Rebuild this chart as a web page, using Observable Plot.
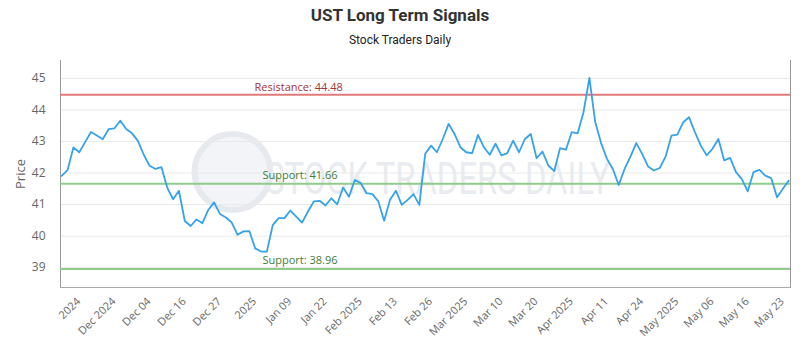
<!DOCTYPE html>
<html>
<head>
<meta charset="utf-8">
<script src="https://cdn.jsdelivr.net/npm/d3@7"></script>
<script src="https://cdn.jsdelivr.net/npm/@observablehq/plot@0.6"></script>
<style>
  html, body { margin: 0; padding: 0; background: #fff; }
  #wrap { width: 800px; height: 350px; overflow: hidden; }
  .title { height: 30px; line-height: 30px; text-align: center; font-family: "Liberation Sans Narrow", "Roboto", sans-serif; font-weight: bold; font-size: 17px; color: #333; }
  .subtitle { height: 20px; line-height: 20px; text-align: center; font-family: "Liberation Sans Narrow", "Roboto", sans-serif; font-size: 12px; color: #222; }
</style>
</head>
<body>
<div id="wrap">
  <div class="title">UST Long Term Signals</div>
  <div class="subtitle">Stock Traders Daily</div>
  <div id="chart"></div>
</div>
<script>
// Closing prices, one per trading day (index = trading day)
const prices = [
  41.91, 42.09, 42.81, 42.66, 42.98, 43.30, 43.19, 43.07, 43.39, 43.42,
  43.66, 43.40, 43.26, 43.02, 42.58, 42.23, 42.13, 42.19, 41.54, 41.17,
  41.44, 40.48, 40.32, 40.53, 40.41, 40.83, 41.07, 40.70, 40.59, 40.43,
  40.04, 40.15, 40.16, 39.61, 39.51, 39.51, 40.35, 40.57, 40.57, 40.81,
  40.62, 40.43, 40.78, 41.10, 41.12, 40.97, 41.20, 41.01, 41.54, 41.25,
  41.78, 41.68, 41.36, 41.33, 41.10, 40.49, 41.15, 41.44, 40.99, 41.15,
  41.33, 40.99, 42.61, 42.87, 42.66, 43.08, 43.56, 43.24, 42.82, 42.66,
  42.63, 43.21, 42.82, 42.58, 42.93, 42.56, 42.63, 43.03, 42.66, 43.08,
  43.24, 42.47, 42.68, 42.24, 42.06, 42.79, 42.74, 43.30, 43.26, 43.93,
  45.02, 43.61, 42.95, 42.45, 42.13, 41.62, 42.13, 42.52, 42.95, 42.61,
  42.21, 42.08, 42.16, 42.52, 43.19, 43.22, 43.61, 43.77, 43.30, 42.87,
  42.56, 42.77, 43.08, 42.40, 42.48, 42.03, 41.81, 41.42, 42.03, 42.10,
  41.92, 41.84, 41.23, 41.50, 41.76
];

// Category tick labels (every 6th trading day)
const tickLabels = [
  "2024", "Dec 2024", "Dec 04", "Dec 16", "Dec 27", "2025", "Jan 09",
  "Jan 22", "Feb 2025", "Feb 13", "Feb 26", "Mar 2025", "Mar 10", "Mar 20",
  "Apr 2025", "Apr 11", "Apr 24", "May 2025", "May 06", "May 16", "May 23"
];
const tickStep = 6;

// Signal levels
const levelNames = ["Resistance", "Support", "Support"];
const levelValues = [44.48, 41.66, 38.96];

const yTicks = [39, 40, 41, 42, 43, 44, 45];

const series = prices.map((p, i) => ({i, p}));
const levels = levelNames.map((n, k) => ({name: n, value: levelValues[k], label: `${n}: ${levelValues[k].toFixed(2)}`}));
const tickIdx = tickLabels.map((_, k) => k * tickStep);

const resColor = "#e07a7a", resText = "#9e3434";
const supColor = "#8fcb8a", supText = "#3f7d3a";

const chart = Plot.plot({
  width: 800,
  height: 300,
  marginTop: 10,
  marginBottom: 63,
  marginLeft: 60,
  marginRight: 10,
  style: {fontFamily: "'Open Sans', sans-serif", fontSize: "11px", color: "#666", background: "#fff"},
  x: {domain: [-0.2, prices.length - 0.7], label: null},
  y: {domain: [38.37, 45.57], label: null},
  marks: [
    // watermark
    Plot.dot([0], {frameAnchor: "middle", dx: -193, dy: -2, r: 38, fill: "#f2f4f7", stroke: "#e6e9ee", strokeWidth: 6}),
    Plot.text(["STOCK TRADERS DAILY"], {frameAnchor: "middle", dx: 12, dy: 6, text: d => d, fontSize: 44, fill: "#e8ebef", fontFamily: "Roboto, sans-serif", className: "wm"}),
    Plot.gridY(yTicks, {stroke: "#e9e9e9", strokeOpacity: 1}),
    Plot.frame({anchor: "left", stroke: "#999"}),
    Plot.frame({anchor: "right", stroke: "#999"}),
    Plot.frame({anchor: "bottom", stroke: "#aaa"}),
    Plot.axisY(yTicks, {tickSize: 0, tickPadding: 15, fontSize: 12, fill: "#666", label: "Price", labelAnchor: "center", labelArrow: "none", labelOffset: 45}),
    Plot.axisX(tickIdx, {tickSize: 0, tickRotate: -45, tickPadding: 12, dx: 17, fontSize: 11, fill: "#666", tickFormat: (d) => tickLabels[d / tickStep], label: null}),
    Plot.ruleY(levels, {y: "value", stroke: d => d.name === "Resistance" ? resColor : supColor, strokeWidth: 2}),
    Plot.text(levels.filter(d => d.name === "Resistance"), {y: "value", text: "label", frameAnchor: "left", textAnchor: "start", dx: 194, dy: -7, fill: resText, fontSize: 11}),
    Plot.text(levels.filter(d => d.name !== "Resistance"), {y: "value", text: "label", frameAnchor: "left", textAnchor: "start", dx: 202, dy: -8, fill: supText, fontSize: 11}),
    Plot.line(series, {x: "i", y: "p", stroke: "#36a2eb", strokeWidth: 1.8})
  ]
});

document.getElementById("chart").appendChild(chart);
// make the watermark text condensed to its original width
d3.select(chart).selectAll(".wm text").attr("textLength", 345).attr("lengthAdjust", "spacingAndGlyphs");
d3.select(chart).select("g[aria-label='y-axis label'] text").attr("font-size", 13);
</script>
</body>
</html>
